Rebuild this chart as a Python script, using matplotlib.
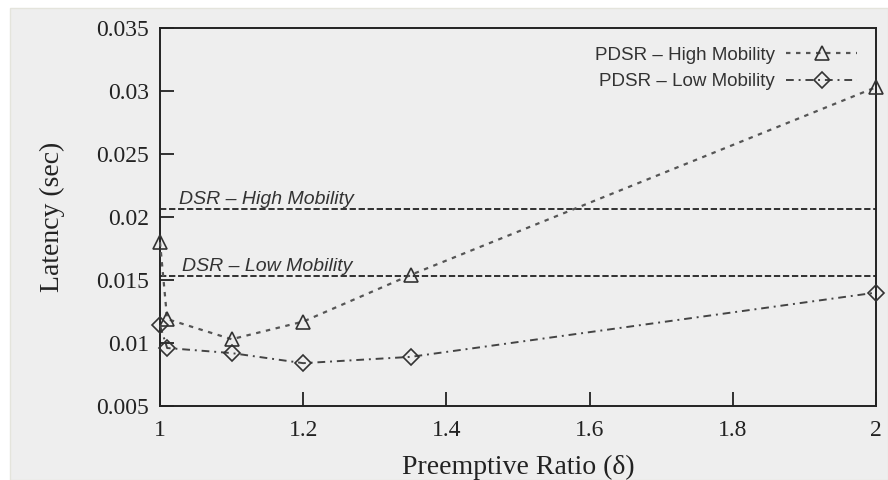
import matplotlib
matplotlib.use("Agg")
import matplotlib.pyplot as plt
from matplotlib.lines import Line2D
from matplotlib.patches import Rectangle

ratio = [1.0, 1.01, 1.1, 1.2, 1.35, 2.0]
pdsr_high = [0.0180, 0.0119, 0.0103, 0.0117, 0.0154, 0.0303]
pdsr_low = [0.0114, 0.0096, 0.0092, 0.0084, 0.0089, 0.0140]
dsr_high = 0.0206
dsr_low = 0.0153
xticks = [1, 1.2, 1.4, 1.6, 1.8, 2]
xtick_labels = ["1", "1.2", "1.4", "1.6", "1.8", "2"]
yticks = [0.005, 0.01, 0.015, 0.02, 0.025, 0.03, 0.035]
ytick_labels = ["0.005", "0.01", "0.015", "0.02", "0.025", "0.03", "0.035"]

fig = plt.figure(figsize=(8.88, 4.8), dpi=100)
fig.patch.set_facecolor("white")
bg = Rectangle((10 / 888, 0), 1 - 10 / 888, 1 - 8 / 480,
               transform=fig.transFigure, facecolor="#eeeeee",
               edgecolor="#e4e4dc", lw=1, zorder=-10)
fig.patches.append(bg)

ax = fig.add_axes([160 / 888, 1 - 406 / 480, 716 / 888, 378 / 480])
ax.set_facecolor("#eeeeee")
ax.set_xlim(1, 2)
ax.set_ylim(0.005, 0.035)

serif = "Liberation Serif"
sans = "Liberation Sans"

ax.axhline(dsr_high, color="#222222", ls=(0, (3.5, 1.5)), lw=1.3, zorder=2)
ax.axhline(dsr_low, color="#222222", ls=(0, (3.5, 1.5)), lw=1.3, zorder=2)
ax.text(1.027, dsr_high + 0.0001, "DSR \u2013 High Mobility", fontsize=14,
        family=sans, style="italic", color="#333333", va="bottom", ha="left")
ax.text(1.031, dsr_low + 0.0001, "DSR \u2013 Low Mobility", fontsize=14,
        family=sans, style="italic", color="#333333", va="bottom", ha="left")

ax.plot(ratio, pdsr_high, color="#555555", ls=(0, (2, 2.5)), lw=1.6,
        marker="^", ms=10, mfc="none", mec="#333333", mew=1.2, zorder=3,
        clip_on=False)
ax.plot(ratio, pdsr_low, color="#444444", ls=(0, (4, 2.5, 1, 2.5)), lw=1.4,
        marker="D", ms=8.5, mfc="none", mec="#333333", mew=1.2, zorder=3,
        clip_on=False)

ax.set_xticks(xticks)
ax.set_xticklabels(xtick_labels, family=serif, fontsize=17)
ax.set_yticks(yticks)
ax.set_yticklabels(ytick_labels, family=serif, fontsize=17)
ax.tick_params(direction="in", length=10, width=1.3, color="#222222",
               labelcolor="#222222", pad=8)
ax.tick_params(axis="x", pad=10)
for s in ax.spines.values():
    s.set_color("#222222")
    s.set_linewidth(1.4)

ax.set_xlabel("Preemptive Ratio (\u03b4)", family=serif, fontsize=20,
              color="#222222", labelpad=10)
ax.set_ylabel("Latency (sec)", family=serif, fontsize=20, color="#222222",
              labelpad=22)

h1 = Line2D([], [], color="#555555", ls=(0, (2, 2.5)), lw=1.6, marker="^",
            ms=10, mfc="none", mec="#333333", mew=1.2)
h2 = Line2D([], [], color="#444444", ls=(0, (4, 2.5, 1, 2.5)), lw=1.4,
            marker="D", ms=8.5, mfc="none", mec="#333333", mew=1.2)
leg = ax.legend([h1, h2], ["PDSR \u2013 High Mobility", "PDSR \u2013 Low Mobility"],
                loc="upper right", frameon=False, markerfirst=False,
                prop={"family": sans, "size": 13.5}, handlelength=3.8,
                handletextpad=0.6, labelspacing=0.5, borderaxespad=0.6)
for t in leg.get_texts():
    t.set_color("#333333")
    t.set_ha("right")

fig.savefig("out.png", dpi=100, facecolor=fig.get_facecolor())
